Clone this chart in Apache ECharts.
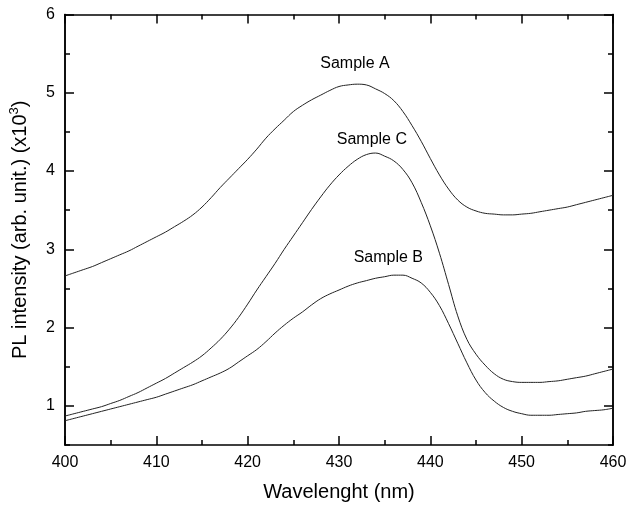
<!DOCTYPE html>
<html>
<head>
<meta charset="utf-8">
<script src="https://cdn.jsdelivr.net/npm/echarts@6/dist/echarts.min.js"></script>
<style>html,body{margin:0;padding:0;background:#fff}#c{width:630px;height:509px}</style>
</head>
<body>
<div id="c"></div>
<script>
const wavelength = [];
for (let w = 400; w <= 460; w++) wavelength.push(w);
const sampleA = [2.66,2.70,2.74,2.78,2.83,2.88,2.93,2.98,3.04,3.10,3.16,3.22,3.29,3.36,3.44,3.54,3.66,3.79,3.91,4.03,4.15,4.28,4.42,4.54,4.65,4.76,4.84,4.91,4.97,5.03,5.08,5.10,5.11,5.10,5.05,4.99,4.90,4.76,4.58,4.38,4.16,3.95,3.77,3.63,3.54,3.49,3.46,3.45,3.44,3.44,3.45,3.46,3.48,3.50,3.52,3.54,3.57,3.60,3.63,3.66,3.69];
const sampleB = [0.81,0.84,0.87,0.90,0.93,0.96,0.99,1.02,1.05,1.08,1.11,1.15,1.19,1.23,1.27,1.32,1.37,1.42,1.48,1.56,1.64,1.72,1.82,1.93,2.03,2.12,2.20,2.29,2.37,2.43,2.48,2.53,2.57,2.60,2.63,2.65,2.67,2.67,2.63,2.57,2.45,2.28,2.05,1.80,1.55,1.33,1.17,1.06,0.98,0.93,0.90,0.88,0.88,0.88,0.89,0.90,0.91,0.93,0.94,0.95,0.97];
const sampleC = [0.87,0.90,0.93,0.96,0.99,1.03,1.07,1.12,1.17,1.23,1.29,1.35,1.42,1.49,1.56,1.64,1.74,1.85,1.98,2.13,2.30,2.48,2.65,2.82,3.00,3.17,3.34,3.51,3.67,3.82,3.95,4.06,4.15,4.21,4.23,4.19,4.13,4.02,3.85,3.60,3.30,2.95,2.55,2.15,1.85,1.66,1.52,1.41,1.34,1.31,1.30,1.30,1.30,1.31,1.32,1.34,1.36,1.38,1.41,1.44,1.47];
const seriesNames = ['Sample A', 'Sample B', 'Sample C'];
const labelCoords = [[431.75, 5.37], [435.4, 2.90], [433.6, 4.40]];
const yMajorTicks = [1, 2, 3, 4, 5, 6];

const chart = echarts.init(document.getElementById('c'));
const font = 'Liberation Sans, Arial, sans-serif';
const axisLine = { show: true, lineStyle: { color: '#000', width: 1.5 } };
const xBase = { type: 'value', min: 400, max: 460, interval: 10, axisLine,
  splitLine: { show: false },
  axisTick: { inside: true, length: 9, lineStyle: { color: '#000', width: 1.5 } },
  minorTick: { show: true, splitNumber: 2, length: 5, lineStyle: { color: '#000', width: 1.5 } } };
const yMinor = { type: 'value', min: 0.5, max: 6, interval: 0.5, axisLine,
  splitLine: { show: false }, axisLabel: { show: false },
  axisTick: { inside: true, length: 5, lineStyle: { color: '#000', width: 1.5 } } };
const yMajor = { type: 'value', min: 0.5, max: 6, interval: 0.5, axisLine,
  splitLine: { show: false },
  axisTick: { inside: true, length: 9, customValues: yMajorTicks, lineStyle: { color: '#000', width: 1.5 } } };

const data = [sampleA, sampleB, sampleC];
chart.setOption({
  animation: false,
  grid: { left: 65, right: 17, top: 14.5, bottom: 64 },
  xAxis: [
    Object.assign({}, xBase, { position: 'bottom', name: 'Wavelenght (nm)', nameLocation: 'middle', nameGap: 37,
      nameTextStyle: { fontFamily: font, fontSize: 20, color: '#000' },
      axisLabel: { margin: 10, fontFamily: font, fontSize: 16, color: '#000' } }),
    Object.assign({}, xBase, { position: 'top', axisLabel: { show: false } })
  ],
  yAxis: [
    Object.assign({}, yMinor, { position: 'left' }),
    Object.assign({}, yMajor, { position: 'left',
      name: '{a|PL intensity (arb. unit.) (x10}{s|3}{a|)}', nameLocation: 'middle', nameGap: 33, nameRotate: 90,
      nameTextStyle: { rich: {
        a: { fontFamily: font, fontSize: 20, color: '#000' },
        s: { fontFamily: font, fontSize: 13, color: '#000', padding: [0, 0, 11, 0] } } },
      axisLabel: { margin: 10, customValues: yMajorTicks, fontFamily: font, fontSize: 16, color: '#000' } }),
    Object.assign({}, yMinor, { position: 'right' }),
    Object.assign({}, yMajor, { position: 'right', axisLabel: { show: false } })
  ],
  series: seriesNames.map((n, i) => ({
    name: n, type: 'line', xAxisIndex: 0, yAxisIndex: 0, showSymbol: false, smooth: 0.4,
    lineStyle: { color: '#222', width: 1 },
    data: wavelength.map((w, j) => [w, data[i][j]]),
    markPoint: { symbol: 'circle', symbolSize: 0, silent: true,
      label: { show: true, position: 'inside', formatter: n, fontFamily: font, fontSize: 16, color: '#000' },
      data: [{ coord: labelCoords[i] }] }
  }))
});
</script>
</body>
</html>
